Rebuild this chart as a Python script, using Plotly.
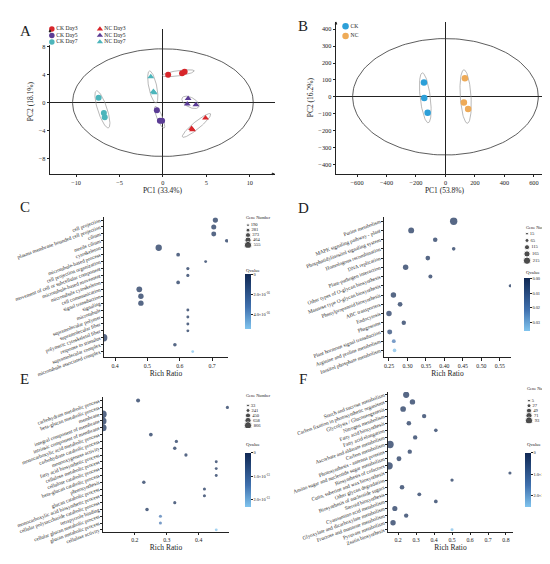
import numpy as np
import plotly.graph_objects as go

W, H = 550, 564
FONT = 'Liberation Serif'
INK = '#222222'

# ---------------- panel A: PCA, CK vs NC by day ----------------
A_GROUPS = ['CK Day3', 'CK Day5', 'CK Day7', 'NC Day3', 'NC Day5', 'NC Day7']
A_PC1 = [[0.6, 2.2, 2.5], [-0.7, -0.35, -0.1], [-7.4, -6.8, -6.7],
         [4.9, 3.3, 3.4], [2.9, 2.8, 3.8], [-1.4, -1.1, -1.0]]
A_PC2 = [[4.0, 4.2, 4.4], [-1.1, -2.6, -2.6], [0.7, -1.5, -2.1],
         [-2.2, -3.7, -3.9], [0.6, -0.2, -0.3], [3.7, 1.6, 1.4]]
A_COLORS = ['#d8262b', '#5b3c95', '#4db5bb', '#d8262b', '#5b3c95', '#4db5bb']
A_SYMBOLS = ['circle'] * 3 + ['triangle-up'] * 3
A_T2 = [10.4, 7.7]          # Hotelling T2 semi-axes

# ---------------- panel B: PCA, CK vs NC ----------------
B_GROUPS = ['CK', 'NC']
B_PC1 = [[-146, -144, -121], [132, 125, 154]]
B_PC2 = [[84, -8, -95], [110, -34, -72]]
B_COLORS = ['#2c9fd8', '#eeaa57']
B_T2 = [630, 345]

# ---------------- panel C: GO enrichment ----------------
C_TERMS = ['cell projection', 'plasma membrane bounded cell projection', 'cilium', 'motile cilium',
           'cytoskeleton', 'microtubule-based process', 'cell projection organization',
           'movement of cell or subcellular component', 'microtubule-based movement',
           'microtubule cytoskeleton', 'cell communication', 'signal transduction', 'signaling',
           'microtubule', 'supramolecular polymer', 'supramolecular fiber',
           'polymeric cytoskeletal fiber', 'response to stimulus', 'supramolecular complex',
           'microtubule associated complex']
C_RATIO = [0.71, 0.705, 0.705, 0.745, 0.535, 0.595, 0.68, 0.625, 0.625, 0.595,
           0.475, 0.48, 0.48, 0.625, 0.625, 0.625, 0.625, 0.365, 0.585, 0.64]
C_GENES = [380, 370, 360, 250, 470, 270, 195, 220, 220, 260,
           420, 400, 400, 200, 200, 200, 200, 555, 250, 190]
C_Q = [0] * 19 + [5.4e-16]
C_SIZES = [190, 281, 373, 464, 555]

# ---------------- panel D: KEGG enrichment ----------------
D_TERMS = ['Purine metabolism', 'MAPK signaling pathway - plant', 'Phosphatidylinositol signaling system',
           'Homologous recombination', 'DNA replication', 'Plant-pathogen interaction',
           'Other types of O-glycan biosynthesis', 'Mannose type O-glycan biosynthesis',
           'Phenylpropanoid biosynthesis', 'ABC transporters', 'Endocytosis', 'Phagosome',
           'Plant hormone signal transduction', 'Arginine and proline metabolism',
           'Inositol phosphate metabolism']
D_RATIO = [0.425, 0.31, 0.375, 0.425, 0.355, 0.295, 0.362, 0.578, 0.262, 0.28,
           0.25, 0.29, 0.252, 0.263, 0.265]
D_GENES = [215, 150, 90, 50, 95, 130, 70, 30, 130, 100, 130, 85, 110, 60, 50]
D_Q = [0, 0, 0, 0, 0, 0, 0, 0, 0, 0, 0.001, 0, 0.006, 0.022, 0.034]
D_SIZES = [15, 65, 115, 165, 215]

# ---------------- panel E: GO enrichment ----------------
E_TERMS = ['carbohydrate metabolic process', 'beta-glucan metabolic process', 'membrane',
           'integral component of membrane', 'intrinsic component of membrane',
           'monocarboxylic acid metabolic process', 'carbohydrate catabolic process',
           'monooxygenase activity', 'fatty acid biosynthetic process', 'cellulose metabolic process',
           'cellulose catabolic process', 'beta-glucan catabolic process', 'photosynthesis',
           'glucan catabolic process', 'monocarboxylic acid biosynthetic process',
           'cellular polysaccharide catabolic process', 'tetrapyrrole binding',
           'cellular glucan metabolic process', 'glucan metabolic process', 'cellulase activity']
E_RATIO = [0.21, 0.49, 0.1, 0.1, 0.1, 0.25, 0.33, 0.325, 0.36, 0.455,
           0.455, 0.455, 0.228, 0.418, 0.418, 0.325, 0.238, 0.28, 0.28, 0.455]
E_GENES = [250, 100, 866, 800, 820, 200, 120, 150, 120, 60,
           60, 60, 150, 80, 80, 100, 160, 80, 80, 40]
E_Q = [0] * 17 + [1.4e-13, 1.4e-13, 2.25e-13]
E_SIZES = [33, 241, 450, 658, 866]

# ---------------- panel F: KEGG enrichment ----------------
F_TERMS = ['Starch and sucrose metabolism', 'Carbon fixation in photosynthetic organisms',
           'Glycolysis / Gluconeogenesis', 'Nitrogen metabolism', 'Fatty acid biosynthesis',
           'Fatty acid elongation', 'Ascorbate and aldarate metabolism', 'Carbon metabolism',
           'Photosynthesis - antenna proteins', 'Amino sugar and nucleotide sugar metabolism',
           'Biosynthesis of cofactors', 'Cutin, suberine and wax biosynthesis',
           'Other glycan degradation', 'Biosynthesis of nucleotide sugars', 'Steroid biosynthesis',
           'Cyanoamino acid metabolism', 'Glyoxylate and dicarboxylate metabolism',
           'Fructose and mannose metabolism', 'Pyruvate metabolism', 'Zeatin biosynthesis']
F_RATIO = [0.245, 0.28, 0.228, 0.345, 0.26, 0.41, 0.295, 0.155, 0.265, 0.205,
           0.15, 0.822, 0.5, 0.222, 0.318, 0.41, 0.182, 0.245, 0.172, 0.5]
F_GENES = [70, 55, 60, 35, 40, 20, 35, 93, 35, 45, 93, 12, 15, 40, 25, 22, 50, 35, 55, 8]
F_Q = [0] * 19 + [2.4e-5]
F_SIZES = [5, 27, 49, 71, 93]

QSCALE = [[0, '#80c4ee'], [0.4, '#3f70ae'], [1, '#102853']]


def fx(p):
    return p / W


def fy(p):
    return 1 - p / H


def ellipse(xs, ys, k, min_ratio):
    pts = np.column_stack([xs, ys])
    c = pts.mean(axis=0)
    vals, vecs = np.linalg.eigh(np.cov(pts.T))
    a = k * np.sqrt(vals[1])
    b = max(k * np.sqrt(max(vals[0], 0)), min_ratio * a)
    t = np.linspace(0, 2 * np.pi, 90)
    e = np.outer(vecs[:, 1], a * np.cos(t)) + np.outer(vecs[:, 0], b * np.sin(t))
    return c[0] + e[0], c[1] + e[1]


def t2_ellipse(semi):
    t = np.linspace(0, 2 * np.pi, 160)
    return semi[0] * np.cos(t), semi[1] * np.sin(t)


def dot_size(g, lo, hi):
    return 2.8 + (np.asarray(g, dtype=float) - lo) / (hi - lo) * 4.6


fig = go.Figure()
annotations = []

# ----- PCA panels -----
def pca_panel(ax, groups, pc1, pc2, colors, symbols, t2, k, ratio, msize):
    xr, yr = 'x' + ax, 'y' + ax
    ex, ey = t2_ellipse(t2)
    fig.add_trace(go.Scatter(x=ex, y=ey, mode='lines', line=dict(color='#333', width=0.8),
                             xaxis=xr, yaxis=yr, showlegend=False, hoverinfo='skip'))
    for i, g in enumerate(groups):
        gx, gy = ellipse(pc1[i], pc2[i], k, ratio)
        fig.add_trace(go.Scatter(x=gx, y=gy, mode='lines', line=dict(color='#9a9a9a', width=0.7),
                                 xaxis=xr, yaxis=yr, showlegend=False, hoverinfo='skip'))
    for i, g in enumerate(groups):
        fig.add_trace(go.Scatter(x=pc1[i], y=pc2[i], mode='markers', name=g,
                                 marker=dict(color=colors[i], symbol=symbols[i], size=msize,
                                             line=dict(width=0)),
                                 xaxis=xr, yaxis=yr, showlegend=False))


pca_panel('', A_GROUPS, A_PC1, A_PC2, A_COLORS, A_SYMBOLS, A_T2, 1.8, 0.2, 6)
pca_panel('2', B_GROUPS, B_PC1, B_PC2, B_COLORS, ['circle', 'circle'], B_T2, 1.65, 0.23, 6.5)

# legend for A (two columns)
for i, g in enumerate(A_GROUPS):
    grp, day = g.split(' ')
    fig.add_trace(go.Scatter(x=[grp], y=[day], mode='markers+text', text=[g],
                             textposition='middle right', textfont=dict(size=5.6, color=INK),
                             marker=dict(color=A_COLORS[i], symbol=A_SYMBOLS[i], size=5.5),
                             xaxis='x7', yaxis='y7', showlegend=False, hoverinfo='skip'))
for i, g in enumerate(B_GROUPS):
    fig.add_trace(go.Scatter(x=['grp'], y=[g], mode='markers+text', text=[g],
                             textposition='middle right', textfont=dict(size=5.6, color=INK),
                             marker=dict(color=B_COLORS[i], size=6.5),
                             xaxis='x8', yaxis='y8', showlegend=False, hoverinfo='skip'))

# ----- enrichment bubble panels -----
def bubble_panel(ax, legax, terms, ratio, genes, q, sizes, qmax, qticks, qtext, bar):
    fig.add_trace(go.Scatter(
        x=ratio, y=terms, mode='markers', xaxis='x' + ax, yaxis='y' + ax, showlegend=False,
        marker=dict(size=dot_size(genes, sizes[0], sizes[-1]), color=[-v for v in q],
                    colorscale=QSCALE, cmin=-qmax, cmax=0, line=dict(width=0), showscale=True,
                    colorbar=dict(x=fx(bar[0]), xanchor='left', y=fy(bar[1]), yanchor='top',
                                  lenmode='pixels', len=bar[2], thickness=6, xpad=0, ypad=0,
                                  outlinewidth=0, ticks='outside', ticklen=2, tickwidth=0.6,
                                  tickcolor=INK, tickvals=[-v for v in qticks], ticktext=qtext,
                                  tickfont=dict(size=4.4, color=INK, family=FONT)))))
    fig.add_trace(go.Scatter(
        x=[0] * len(sizes), y=[str(s) for s in sizes], mode='markers+text',
        text=[str(s) for s in sizes], textposition='middle right',
        textfont=dict(size=4.6, color=INK), xaxis='x' + legax, yaxis='y' + legax,
        marker=dict(size=dot_size(sizes, sizes[0], sizes[-1]), color='black'),
        showlegend=False, hoverinfo='skip'))


bubble_panel('3', '9', C_TERMS, C_RATIO, C_GENES, C_Q, C_SIZES, 5.5e-16,
             [0, 2e-16, 4e-16], ['0', '2.0×10<sup>-16</sup>', '4.0×10<sup>-16</sup>'],
             (237, 276, 55))
bubble_panel('4', '10', D_TERMS, D_RATIO, D_GENES, D_Q, D_SIZES, 0.0355,
             [0, 0.01, 0.02, 0.03], ['0.00', '0.01', '0.02', '0.03'], (516, 280, 53))
bubble_panel('5', '11', E_TERMS, E_RATIO, E_GENES, E_Q, E_SIZES, 2.3e-13,
             [0, 1e-13, 2e-13], ['0', '1.0×10<sup>-13</sup>', '2.0×10<sup>-13</sup>'],
             (237, 461, 54))
bubble_panel('6', '12', F_TERMS, F_RATIO, F_GENES, F_Q, F_SIZES, 2.5e-5,
             [0, 1e-5, 2e-5], ['0', '1.0×10<sup>-5</sup>', '2.0×10<sup>-5</sup>'],
             (517, 461, 54))

# ----- axes -----
base = dict(showline=True, linecolor=INK, linewidth=0.8, ticks='outside', ticklen=2.5,
            tickwidth=0.7, tickcolor=INK, showgrid=False, zeroline=False,
            tickfont=dict(size=6.3, color=INK, family=FONT))
title_font = dict(size=7.5, color=INK, family=FONT)

layout_axes = {}
# A
layout_axes['xaxis'] = dict(base, domain=[fx(42), fx(267)], range=[-13, 12.9], anchor='y',
                            tickvals=[-10, -5, 0, 5, 10], zeroline=True, zerolinecolor=INK,
                            zerolinewidth=0.8, title=dict(text='PC1 (33.4%)', font=title_font, standoff=2))
layout_axes['yaxis'] = dict(base, domain=[fy(172), fy(22)], range=[-10.2, 10.5], anchor='x',
                            tickvals=[-8, -4, 0, 4, 8], zeroline=True, zerolinecolor=INK,
                            zerolinewidth=0.8, title=dict(text='PC2 (18.1%)', font=title_font, standoff=3))
# B
layout_axes['xaxis2'] = dict(base, domain=[fx(328), fx(545)], range=[-743, 730], anchor='y2',
                             tickvals=list(range(-600, 601, 200)), zeroline=True, zerolinecolor=INK,
                             zerolinewidth=0.8, title=dict(text='PC1 (53.8%)', font=title_font, standoff=2))
layout_axes['yaxis2'] = dict(base, domain=[fy(172), fy(14)], range=[-457, 446], anchor='x2',
                             tickvals=list(range(-400, 401, 100)), zeroline=True, zerolinecolor=INK,
                             zerolinewidth=0.8, title=dict(text='PC2 (16.2%)', font=title_font, standoff=3))

bub_x = dict(base, tickfont=dict(size=5.8, color=INK, family=FONT))
bub_y = dict(base, type='category', tickangle=-20, ticklen=2,
             tickfont=dict(size=5.2, color=INK, family=FONT))
rr = dict(text='Rich Ratio', font=title_font, standoff=1)
# C
layout_axes['xaxis3'] = dict(bub_x, domain=[fx(96), fx(220)], range=[0.366, 0.749], anchor='y3',
                             tickvals=[0.4, 0.5, 0.6, 0.7], title=rr)
layout_axes['yaxis3'] = dict(bub_y, domain=[fy(362), fy(217)], range=[19.8, -0.4], anchor='x3',
                             categoryorder='array', categoryarray=C_TERMS)
# D
layout_axes['xaxis4'] = dict(bub_x, domain=[fx(376), fx(503)], range=[0.2365, 0.58], anchor='y4',
                             tickvals=[0.25, 0.30, 0.35, 0.40, 0.45, 0.50, 0.55], tickformat='.2f',
                             title=rr)
layout_axes['yaxis4'] = dict(bub_y, domain=[fy(362), fy(217)], range=[14.73, -0.42], anchor='x4',
                             categoryorder='array', categoryarray=D_TERMS)
# E
layout_axes['xaxis5'] = dict(bub_x, domain=[fx(95), fx(221)], range=[0.1, 0.495], anchor='y5',
                             tickvals=[0.2, 0.3, 0.4], title=rr)
layout_axes['yaxis5'] = dict(bub_y, domain=[fy(543), fy(403)], range=[19.28, -0.57], anchor='x5',
                             categoryorder='array', categoryarray=E_TERMS)
# F
layout_axes['xaxis6'] = dict(bub_x, domain=[fx(380), fx(505)], range=[0.144, 0.839], anchor='y6',
                             tickvals=[0.2, 0.3, 0.4, 0.5, 0.6, 0.7, 0.8], title=rr)
layout_axes['yaxis6'] = dict(bub_y, domain=[fy(543), fy(398)], range=[19.27, -0.41], anchor='x6',
                             categoryorder='array', categoryarray=F_TERMS)

hidden = dict(visible=False, showgrid=False, zeroline=False, fixedrange=True)
# legend axes for A and B
layout_axes['xaxis7'] = dict(hidden, domain=[fx(40), fx(140)], range=[-0.08, 2], anchor='y7',
                             type='category', categoryarray=['CK', 'NC'], categoryorder='array')
layout_axes['yaxis7'] = dict(hidden, domain=[fy(38.5), fy(18.5)], range=[2.5, -0.5], anchor='x7',
                             type='category', categoryarray=['Day3', 'Day5', 'Day7'], categoryorder='array')
layout_axes['xaxis8'] = dict(hidden, domain=[fx(333), fx(383)], range=[-0.1, 1], anchor='y8',
                             type='category')
layout_axes['yaxis8'] = dict(hidden, domain=[fy(34), fy(14)], range=[1.5, -0.5], anchor='x8',
                             type='category', categoryarray=B_GROUPS, categoryorder='array')
# gene-number legend axes
for ax, mx, y0, y1, sizes in [('9', 240, 222.5, 248.5, C_SIZES), ('10', 519, 230.5, 265.5, D_SIZES),
                              ('11', 240, 409.5, 435.5, E_SIZES), ('12', 521, 404.5, 430.5, F_SIZES)]:
    layout_axes['xaxis' + ax] = dict(hidden, domain=[fx(mx - 5), fx(mx + 25)], range=[-5, 25],
                                     anchor='y' + ax)
    layout_axes['yaxis' + ax] = dict(hidden, domain=[fy(y1), fy(y0)], range=[4.5, -0.5], anchor='x' + ax,
                                     type='category', categoryorder='array',
                                     categoryarray=[str(s) for s in sizes])

# axis arrows for the PCA panels
for xr, yr, xmax, xmin, ymin, ymax in [('x', 'y', 12.9, -13, -10.2, 10.5),
                                       ('x2', 'y2', 730, -743, -457, 446)]:
    annotations.append(dict(x=xmax, y=ymin, xref=xr, yref=yr, ax=-5, ay=0, text='', showarrow=True,
                            arrowhead=2, arrowsize=0.7, arrowwidth=0.8, arrowcolor=INK))
    annotations.append(dict(x=xmin, y=ymax, xref=xr, yref=yr, ax=0, ay=5, text='', showarrow=True,
                            arrowhead=2, arrowsize=0.7, arrowwidth=0.8, arrowcolor=INK))

for letter, px, py in [('A', 10, 13), ('B', 295, 8), ('C', 10, 206), ('D', 295, 207),
                       ('E', 10, 395), ('F', 295, 395)]:
    annotations.append(dict(x=fx(px), y=fy(py), xref='paper', yref='paper', text=letter,
                            showarrow=False, font=dict(size=15, color=INK, family=FONT)))

for px, py in [(236, 217), (516, 228), (236, 406), (517, 399)]:
    annotations.append(dict(x=fx(px), y=fy(py), xref='paper', yref='paper', text='Gene Number',
                            xanchor='left', showarrow=False, font=dict(size=4.3, color=INK, family=FONT)))
for px, py in [(236, 272), (516, 274), (236, 457), (517, 457)]:
    annotations.append(dict(x=fx(px), y=fy(py), xref='paper', yref='paper', text='Qvalue',
                            xanchor='left', showarrow=False, font=dict(size=4.8, color=INK, family=FONT)))

fig.update_layout(
    width=W, height=H, autosize=False,
    margin=dict(l=0, r=0, t=0, b=0),
    paper_bgcolor='white', plot_bgcolor='white',
    font=dict(family=FONT, color=INK),
    showlegend=False,
    annotations=annotations,
    **layout_axes,
)

fig.write_html('out.html')
